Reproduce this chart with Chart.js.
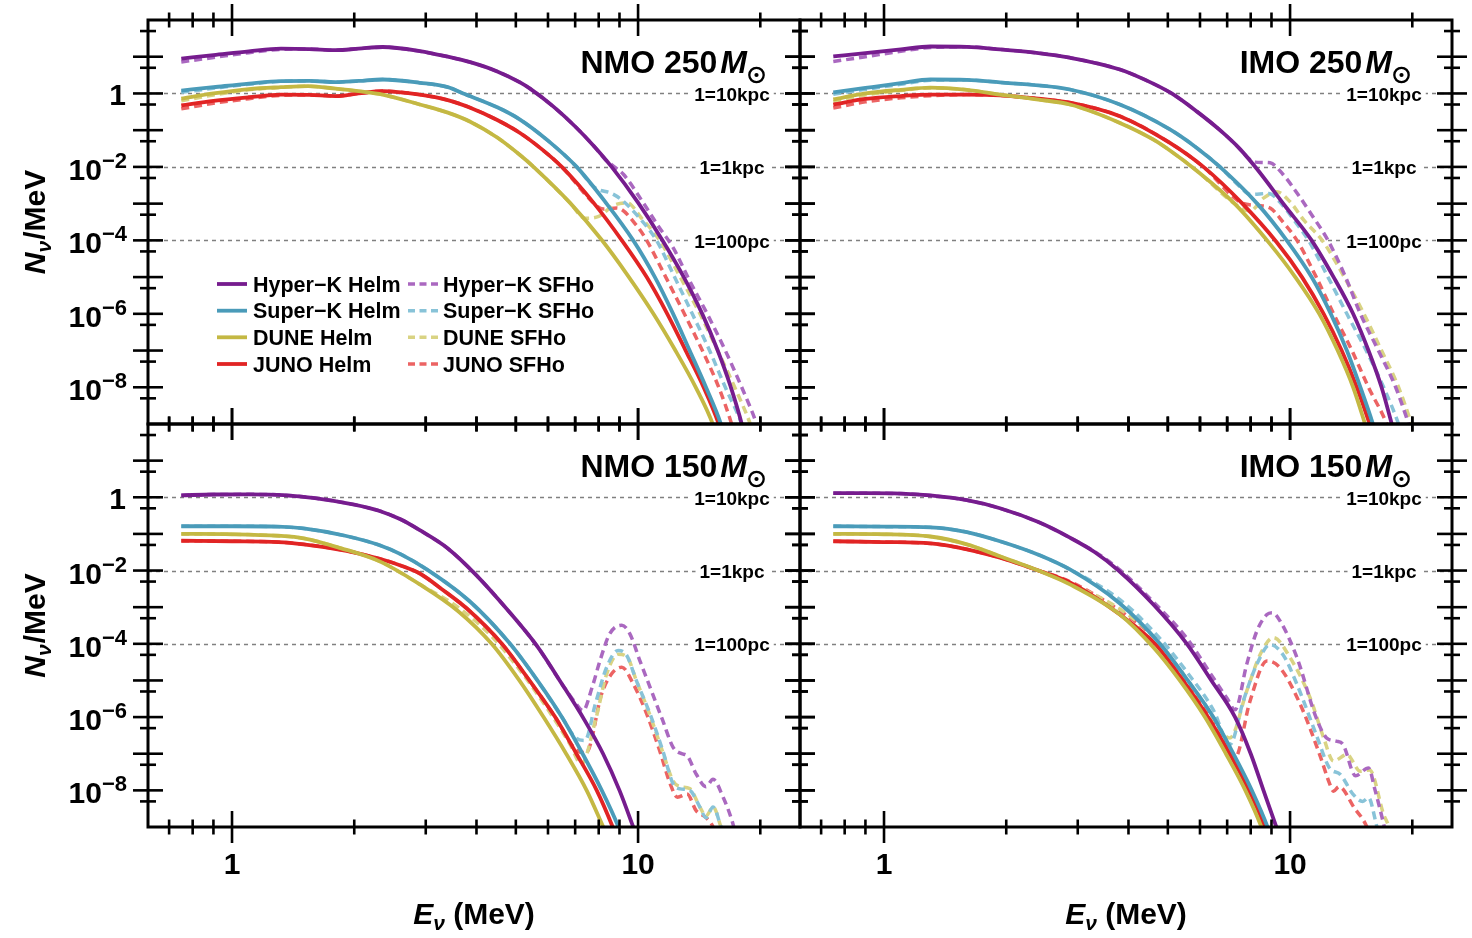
<!DOCTYPE html>
<html>
<head>
<meta charset="utf-8">
<script src="https://cdn.jsdelivr.net/npm/chart.js@4.4.1/dist/chart.umd.min.js"></script>
<style>
html,body{margin:0;padding:0;background:#fff;}
#wrap{position:relative;width:1472px;height:938px;overflow:hidden;background:#fff;}
#wrap canvas{position:absolute;left:0;top:0;}
</style>
</head>
<body>
<div id="wrap">
<canvas id="c0" width="1472" height="938"></canvas>
<canvas id="c1" width="1472" height="938"></canvas>
<canvas id="c2" width="1472" height="938"></canvas>
<canvas id="c3" width="1472" height="938"></canvas>
</div>
<script>
// ---------------- DATA (E_nu in MeV, N_nu per MeV) ----------------
const DETECTORS = ['Hyper−K', 'Super−K', 'DUNE', 'JUNO'];
const MODELS = ['Helm', 'SFHo'];
const PANEL_TITLES = ['NMO 250', 'IMO 250', 'NMO 150', 'IMO 150'];
const GUIDE_VALUES = [1, 1e-2, 1e-4];
const GUIDE_LABELS = ['1=10kpc', '1=1kpc', '1=100pc'];
const X_MAJOR_TICKS = [1, 10];
const X_MINOR_TICKS = [0.7, 0.8, 0.9, 2, 3, 4, 5, 6, 7, 8, 9, 20];
const X_TICK_LABELS = ['1', '10'];
const Y_MAJOR_TICKS = [10, 1, 0.1, 1e-2, 1e-3, 1e-4, 1e-5, 1e-6, 1e-7, 1e-8];
const Y_MINOR_TICKS = [50, 5, 0.5, 0.05, 5e-3, 5e-4, 5e-5, 5e-6, 5e-7, 5e-8, 5e-9];
const Y_LABEL_VALUES = [1, 1e-2, 1e-4, 1e-6, 1e-8];
const Y_LABEL_EXPONENTS = [null, '−2', '−4', '−6', '−8'];

// NMO 250 Msun
const nmo250_HyperK_Helm = [[0.75,8.9],[0.9,11],[1.1,14],[1.32,16.6],[1.55,16.2],[1.8,15.1],[2.05,16.6],[2.35,18.4],[2.9,14.3],[3.4,10],[3.86,7.1],[4.5,3.98],[5.12,2.0],[5.42,1.35],[6.2,0.43],[7.0,0.126],[7.8,0.036],[8.61,0.01],[10.0,1.07e-3],[11.4,1.15e-4],[12.9,1.1e-5],[14.4,9.8e-7],[15.7,1.02e-7],[16.9,1.05e-8],[18.1,7.9e-10],[18.5,2.5e-10]];
const nmo250_SuperK_Helm = [[0.75,1.2],[0.9,1.48],[1.1,1.86],[1.32,2.17],[1.55,2.19],[1.8,2.04],[2.05,2.19],[2.35,2.4],[2.9,1.95],[3.4,1.48],[3.71,1.0],[4.5,0.42],[5.12,0.195],[6.0,0.052],[7.06,0.01],[8.3,1.12e-3],[9.73,1e-4],[11.0,1e-5],[12.2,1e-6],[13.4,1e-7],[14.7,1e-8],[16.0,1e-9],[16.5,3.2e-10]];
const nmo250_DUNE_Helm = [[0.75,0.72],[0.9,1.0],[1.1,1.32],[1.32,1.48],[1.54,1.58],[1.8,1.35],[2.05,1.15],[2.35,0.93],[2.9,0.5],[3.4,0.3],[3.86,0.17],[4.5,0.063],[5.12,0.021],[5.57,9.3e-3],[6.8,1.05e-3],[8.14,1.02e-4],[9.4,1.17e-5],[10.9,1.02e-6],[12.3,1.1e-7],[13.9,9.5e-9],[15.3,9.5e-10],[15.8,3e-10]];
const nmo250_JUNO_Helm = [[0.75,0.47],[0.9,0.63],[1.1,0.79],[1.32,0.93],[1.55,0.91],[1.8,0.85],[2.05,1.0],[2.35,1.16],[2.9,0.93],[3.4,0.66],[3.86,0.41],[4.5,0.19],[5.12,0.084],[5.8,0.03],[6.49,0.01],[7.8,1e-3],[9.12,1e-4],[10.5,1e-5],[11.8,1e-6],[13.1,1e-7],[14.5,1e-8],[15.8,1e-9],[16.3,3.2e-10]];
const nmo250_HyperK_SFHo = [[0.75,7.2],[0.9,9.5],[1.1,12.9],[1.32,15.8],[1.55,16.2],[1.8,15.1],[2.05,16.6],[2.35,18.2],[2.9,14.1],[3.4,10],[3.86,7.1],[4.5,3.98],[5.12,2.0],[5.42,1.35],[6.2,0.43],[7.0,0.126],[7.8,0.036],[8.3,0.016],[8.65,0.011],[9.2,6.3e-3],[10.3,1.05e-3],[11.2,2.5e-4],[12.2,6.3e-5],[13.4,7.9e-6],[14.8,1e-6],[16.4,1e-7],[18.0,1e-8],[19.6,1e-9],[20.3,3e-10]];
const nmo250_SuperK_SFHo = [[0.75,1.08],[0.9,1.38],[1.1,1.78],[1.32,2.14],[1.55,2.19],[1.8,2.04],[2.05,2.19],[2.35,2.4],[2.9,1.95],[3.4,1.48],[3.71,1.0],[4.5,0.42],[5.12,0.195],[6.0,0.052],[7.06,0.01],[7.8,2.8e-3],[8.6,1.9e-3],[9.12,1.26e-3],[10.0,4.5e-4],[11.1,1e-4],[12.3,1e-5],[13.6,1e-6],[15.0,1e-7],[16.4,1e-8],[18.0,1e-9],[18.6,3.2e-10]];
const nmo250_DUNE_SFHo = [[0.75,0.63],[0.9,0.91],[1.1,1.26],[1.32,1.45],[1.54,1.58],[1.8,1.35],[2.05,1.15],[2.35,0.93],[2.9,0.5],[3.4,0.3],[3.86,0.17],[4.5,0.063],[5.12,0.021],[5.57,9.3e-3],[6.8,1.05e-3],[7.4,4e-4],[8.0,4.5e-4],[8.7,8.9e-4],[9.4,1.05e-3],[10.2,4e-4],[11.3,1e-4],[12.7,1e-5],[14.2,1e-6],[15.7,1e-7],[17.3,1e-8],[18.9,1e-9],[19.5,3.5e-10]];
const nmo250_JUNO_SFHo = [[0.75,0.38],[0.9,0.54],[1.1,0.72],[1.32,0.89],[1.55,0.91],[1.8,0.85],[2.05,1.0],[2.35,1.16],[2.9,0.93],[3.4,0.66],[3.86,0.41],[4.5,0.19],[5.12,0.084],[5.8,0.03],[6.49,0.01],[7.8,1e-3],[8.2,7.1e-4],[8.86,7.6e-4],[9.93,2.5e-4],[10.5,1e-4],[11.7,1e-5],[13.0,1e-6],[14.4,1e-7],[15.8,1e-8],[17.0,1e-9],[17.5,3.2e-10]];

// IMO 250 Msun
const imo250_HyperK_Helm = [[0.75,10.2],[0.9,12.6],[1.1,15.8],[1.3,19],[1.6,18.6],[1.93,15.8],[2.4,12.6],[2.87,9.4],[3.81,4.5],[4.4,2.34],[5.11,1.0],[5.9,0.32],[6.72,0.1],[7.5,0.032],[8.28,8.9e-3],[9.7,8.9e-4],[11.3,1e-4],[12.8,1e-5],[14.3,1e-6],[15.6,1e-7],[16.8,1e-8],[17.8,1e-9],[18.3,3e-10]];
const imo250_SuperK_Helm = [[0.75,1.07],[0.9,1.41],[1.1,1.9],[1.3,2.4],[1.6,2.34],[1.93,2.0],[2.4,1.66],[2.87,1.28],[3.81,0.5],[5.06,0.105],[5.85,0.035],[6.72,0.01],[8.3,1e-3],[9.81,1e-4],[11.3,1e-5],[12.6,1e-6],[13.8,1e-7],[14.9,1e-8],[16.0,1e-9],[16.5,3.2e-10]];
const imo250_DUNE_Helm = [[0.75,0.69],[0.9,1.0],[1.1,1.26],[1.3,1.45],[1.6,1.26],[1.93,0.93],[2.4,0.68],[2.87,0.5],[3.81,0.158],[4.6,0.056],[5.06,0.028],[5.89,7.9e-3],[7.3,1e-3],[8.93,7.9e-5],[10.3,1e-5],[11.8,1e-6],[13.1,1e-7],[14.3,1e-8],[15.3,1e-9],[15.8,3.2e-10]];
const imo250_JUNO_Helm = [[0.75,0.5],[0.9,0.71],[1.1,0.85],[1.3,0.93],[1.6,0.93],[1.93,0.89],[2.4,0.72],[2.87,0.56],[3.81,0.24],[5.06,0.045],[6.12,0.01],[7.6,1.05e-3],[9.27,8.9e-5],[10.7,1e-5],[12.1,1e-6],[13.4,1e-7],[14.6,1e-8],[15.7,1e-9],[16.2,3.2e-10]];
const imo250_HyperK_SFHo = [[0.75,7.4],[0.9,10],[1.1,14.1],[1.3,17.8],[1.6,18.6],[1.93,15.8],[2.4,12.6],[2.87,9.4],[3.81,4.5],[4.4,2.34],[5.11,1.0],[5.9,0.32],[6.72,0.1],[7.5,0.032],[7.9,0.017],[8.2,0.0135],[8.93,0.0129],[9.6,6.3e-3],[10.4,1.95e-3],[11.3,5e-4],[12.4,1e-4],[13.7,1e-5],[14.9,1e-6],[16.5,1e-7],[18.2,1e-8],[19.6,1e-9],[20.3,3.2e-10]];
const imo250_SuperK_SFHo = [[0.75,0.95],[0.9,1.29],[1.1,1.78],[1.3,2.29],[1.6,2.34],[1.93,2.0],[2.4,1.66],[2.87,1.28],[3.81,0.5],[5.06,0.105],[5.85,0.035],[6.72,0.01],[7.5,3e-3],[8.0,1.78e-3],[8.85,1.9e-3],[9.6,8.9e-4],[10.3,3.2e-4],[11.1,1e-4],[12.4,1e-5],[13.8,1e-6],[15.4,1e-7],[17.0,1e-8],[18.5,1e-9],[19.1,3.2e-10]];
const imo250_DUNE_SFHo = [[0.75,0.6],[0.9,0.91],[1.1,1.2],[1.3,1.41],[1.6,1.26],[1.93,0.93],[2.4,0.68],[2.87,0.5],[3.81,0.158],[4.6,0.056],[5.06,0.028],[5.89,7.9e-3],[7.3,1e-3],[7.97,6.3e-4],[8.6,1.41e-3],[9.27,2.1e-3],[10.0,1.12e-3],[10.8,3.6e-4],[12.0,1e-4],[13.6,1e-5],[15.2,1e-6],[16.8,1e-7],[18.5,1e-8],[19.9,1e-9],[20.5,3.2e-10]];
const imo250_JUNO_SFHo = [[0.75,0.4],[0.9,0.59],[1.1,0.76],[1.3,0.87],[1.6,0.93],[1.93,0.89],[2.4,0.72],[2.87,0.56],[3.81,0.24],[5.06,0.045],[6.12,0.01],[7.6,1.05e-3],[8.3,8.9e-4],[8.93,7.6e-4],[9.6,3.2e-4],[10.4,1e-4],[11.6,1e-5],[12.8,1e-6],[14.2,1e-7],[15.6,1e-8],[17.3,1e-9],[17.9,3.2e-10]];

// NMO 150 Msun
const nmo150_HyperK_Helm = [[0.75,1.13],[0.9,1.19],[1.1,1.2],[1.34,1.15],[1.6,0.95],[2.0,0.63],[2.3,0.43],[2.6,0.25],[2.9,0.126],[3.4,0.04],[4.0,7.4e-3],[4.75,8.9e-4],[5.63,8.9e-5],[6.5,7.9e-6],[7.4,7.9e-7],[8.2,1e-7],[9.0,1e-8],[9.73,1e-9],[10.1,3.2e-10]];
const nmo150_SuperK_Helm = [[0.75,0.162],[1.0,0.162],[1.3,0.158],[1.5,0.141],[1.9,0.089],[2.31,0.049],[2.6,0.028],[3.05,0.01],[3.86,1.41e-3],[4.84,1e-4],[5.65,1e-5],[6.49,1e-6],[7.3,1e-7],[8.14,1e-8],[8.95,1e-9],[9.3,3.2e-10]];
const nmo150_DUNE_Helm = [[0.75,0.1],[1.0,0.098],[1.3,0.089],[1.5,0.076],[1.85,0.041],[2.31,0.0178],[2.9,4.2e-3],[3.6,7.9e-4],[4.36,1e-4],[5.1,1e-5],[5.85,1e-6],[6.65,1e-7],[7.47,1e-8],[8.21,1e-9],[8.6,3.2e-10]];
const nmo150_JUNO_Helm = [[0.75,0.065],[1.0,0.063],[1.3,0.06],[1.5,0.052],[1.9,0.035],[2.31,0.021],[2.6,0.0138],[2.9,8.3e-3],[3.3,3e-3],[3.8,8.9e-4],[4.62,1e-4],[5.4,1e-5],[6.25,1e-6],[7.05,1e-7],[7.91,1e-8],[8.66,1e-9],[9.0,3.2e-10]];
const nmo150_HyperK_SFHo = [[0.75,1.13],[0.9,1.19],[1.1,1.2],[1.34,1.15],[1.6,0.95],[2.0,0.63],[2.3,0.43],[2.6,0.25],[2.9,0.126],[3.4,0.04],[4.0,7.4e-3],[4.75,8.9e-4],[5.63,8.9e-5],[6.5,7.9e-6],[7.0,2.5e-6],[7.32,1.5e-6],[7.7,6.3e-6],[8.06,3.5e-5],[8.52,1.9e-4],[9.12,3.2e-4],[9.54,1.9e-4],[10.1,3.5e-5],[10.7,6.6e-6],[11.5,8.1e-7],[12.2,1.5e-7],[12.8,1e-7],[13.2,8.9e-8],[13.9,2.8e-8],[14.7,1.26e-8],[15.3,2e-8],[16.2,6.5e-9],[17.0,1.6e-9],[17.4,6.3e-10]];
const nmo150_SuperK_SFHo = [[0.75,0.162],[1.0,0.162],[1.3,0.158],[1.5,0.141],[1.9,0.089],[2.31,0.049],[2.6,0.028],[3.05,0.01],[3.86,1.41e-3],[4.84,1e-4],[5.65,1e-5],[6.49,1e-6],[7.0,2.8e-7],[7.4,2.3e-7],[7.85,2.3e-6],[8.37,2.3e-5],[8.93,6.6e-5],[9.38,4.8e-5],[9.9,1e-5],[10.7,1.23e-6],[11.5,1.23e-7],[12.2,1.5e-8],[12.7,1.1e-8],[13.4,1e-8],[14.2,3.5e-9],[14.7,1.8e-9],[15.3,3.5e-9],[16.0,1e-9],[16.4,4e-10]];
const nmo150_DUNE_SFHo = [[0.75,0.1],[1.0,0.098],[1.3,0.089],[1.5,0.076],[1.85,0.041],[2.31,0.0178],[2.9,4.2e-3],[3.6,1e-3],[4.36,1.6e-4],[5.1,2e-5],[6.0,1.6e-6],[6.8,1.8e-7],[7.25,5.2e-8],[7.85,7.9e-7],[8.37,1.5e-5],[8.93,5.2e-5],[9.38,4.5e-5],[9.9,1e-5],[10.7,1.12e-6],[11.5,1.12e-7],[12.2,1.8e-8],[12.7,1.26e-8],[13.4,1.12e-8],[14.2,3.5e-9],[14.7,2e-9],[15.3,3.5e-9],[16.0,1e-9],[16.4,4e-10]];
const nmo150_JUNO_SFHo = [[0.75,0.065],[1.0,0.063],[1.3,0.06],[1.5,0.052],[1.9,0.035],[2.31,0.021],[2.6,0.0138],[2.9,8.3e-3],[3.3,3e-3],[3.8,8.9e-4],[4.62,1e-4],[5.4,1e-5],[6.25,1e-6],[7.05,1.26e-7],[7.45,1.07e-7],[8.14,4.4e-6],[8.6,1.5e-5],[9.12,2.3e-5],[9.73,8.1e-6],[10.5,1.23e-6],[11.3,1.23e-7],[12.0,1.5e-8],[12.5,6.5e-9],[13.2,7.9e-9],[13.9,2.8e-9],[14.7,1.8e-9],[15.3,1e-9],[15.7,4e-10]];

// IMO 150 Msun
const imo150_HyperK_Helm = [[0.75,1.29],[0.9,1.29],[1.1,1.26],[1.3,1.12],[1.6,0.83],[1.93,0.5],[2.4,0.21],[2.87,0.079],[3.3,0.032],[3.78,0.01],[4.6,1.2e-3],[5.57,1e-4],[6.4,1e-5],[7.32,1e-6],[8.0,1e-7],[8.6,1e-8],[9.25,1e-9],[9.6,3.2e-10]];
const imo150_SuperK_Helm = [[0.75,0.162],[1.0,0.158],[1.3,0.151],[1.6,0.112],[1.93,0.063],[2.4,0.027],[2.87,0.0107],[3.81,1.26e-3],[4.78,1e-4],[5.6,1e-5],[6.47,1e-6],[7.25,1e-7],[8.05,1e-8],[8.8,1e-9],[9.1,3.2e-10]];
const imo150_DUNE_Helm = [[0.75,0.1],[1.0,0.098],[1.3,0.085],[1.6,0.052],[1.93,0.0245],[2.4,0.01],[2.87,4.2e-3],[3.81,6.3e-4],[4.61,7.9e-5],[5.35,1e-5],[6.17,1e-6],[6.95,1e-7],[7.76,1e-8],[8.5,1e-9],[8.8,3.2e-10]];
const imo150_JUNO_Helm = [[0.75,0.063],[1.0,0.06],[1.3,0.055],[1.6,0.038],[1.93,0.0224],[2.4,0.01],[2.87,4.7e-3],[3.81,6.3e-4],[4.65,1e-4],[5.45,1e-5],[6.28,1e-6],[7.1,1e-7],[7.92,1e-8],[8.65,1e-9],[8.9,3.2e-10]];
const imo150_HyperK_SFHo = [[0.75,1.29],[0.9,1.29],[1.1,1.26],[1.3,1.12],[1.6,0.83],[1.93,0.5],[2.4,0.21],[2.87,0.079],[3.3,0.033],[3.78,0.0112],[4.6,1.41e-3],[5.57,1.41e-4],[6.4,1.41e-5],[7.0,3.2e-6],[7.32,1.58e-6],[7.82,2.75e-5],[8.28,2.2e-4],[8.77,6.3e-4],[9.05,7.1e-4],[9.45,4.2e-4],[10.4,4.2e-5],[11.6,9.5e-7],[12.3,2.7e-7],[13.0,2.2e-7],[13.5,1.8e-7],[14.5,2.5e-8],[15.6,4.1e-8],[16.2,1e-8],[17.0,1.2e-9],[17.3,5e-10]];
const imo150_SuperK_SFHo = [[0.75,0.162],[1.0,0.158],[1.3,0.151],[1.6,0.112],[1.93,0.063],[2.4,0.027],[2.87,0.0107],[3.81,1.6e-3],[4.78,1.41e-4],[5.6,1.58e-5],[6.47,1.58e-6],[7.11,1.78e-7],[7.67,2.75e-6],[8.28,2.75e-5],[8.93,9.5e-5],[9.6,5.1e-5],[10.4,7.8e-6],[11.6,3.3e-7],[12.5,4.1e-8],[13.3,2.7e-8],[14.3,7.8e-9],[15.1,5e-9],[15.6,6.3e-9],[16.3,1.2e-9],[16.6,5e-10]];
const imo150_DUNE_SFHo = [[0.75,0.1],[1.0,0.098],[1.3,0.085],[1.6,0.052],[1.93,0.0245],[2.4,0.01],[2.87,4.4e-3],[3.81,8.9e-4],[4.61,1.58e-4],[5.35,2e-5],[6.17,2.2e-6],[7.11,2.7e-7],[7.82,5.1e-6],[8.44,5.1e-5],[9.1,1.48e-4],[10.0,4.2e-5],[11.2,3.4e-6],[12.1,2.7e-7],[12.8,6.3e-8],[13.8,9.5e-8],[14.9,3.3e-8],[15.7,3.6e-8],[17.0,2.2e-9],[17.5,1e-9],[17.8,4e-10]];
const imo150_JUNO_SFHo = [[0.75,0.063],[1.0,0.06],[1.3,0.055],[1.6,0.038],[1.93,0.0224],[2.4,0.01],[2.87,5e-3],[3.81,8e-4],[4.65,1.41e-4],[5.45,1.41e-5],[6.28,1.26e-6],[7.0,1.58e-7],[7.32,7.8e-8],[7.97,2.75e-6],[8.77,3.4e-5],[9.45,2.2e-5],[10.6,2.2e-6],[11.9,7.8e-8],[12.5,1.58e-8],[12.8,9.5e-9],[13.2,1.26e-8],[14.4,3.3e-9],[15.4,1.1e-9],[15.8,5e-10]];

// ---------------- STYLE / LAYOUT ----------------
const FONT = '"Liberation Sans", Arial, Helvetica, sans-serif';
const HELM_COLORS = ['#761C8E', '#4A9BB9', '#C4B843', '#E12424'];
const SFHO_COLORS = ['#AA68C0', '#88C3D8', '#D9D383', '#EC6363'];
const X_MIN = 0.621, X_MAX = 25.05, Y_MIN = 1e-9, Y_MAX = 100;
const W = 1472, H = 938;

const PANELS = [
  { canvas: 'c0', title: PANEL_TITLES[0], area: { l: 148, r: 800, t: 20, b: 424 }, titleRight: 765,
    helm: [nmo250_HyperK_Helm, nmo250_SuperK_Helm, nmo250_DUNE_Helm, nmo250_JUNO_Helm],
    sfho: [nmo250_HyperK_SFHo, nmo250_SuperK_SFHo, nmo250_DUNE_SFHo, nmo250_JUNO_SFHo],
    legend: true, yAxis: true, xAxis: false },
  { canvas: 'c1', title: PANEL_TITLES[1], area: { l: 800, r: 1452, t: 20, b: 424 }, titleRight: 1410,
    helm: [imo250_HyperK_Helm, imo250_SuperK_Helm, imo250_DUNE_Helm, imo250_JUNO_Helm],
    sfho: [imo250_HyperK_SFHo, imo250_SuperK_SFHo, imo250_DUNE_SFHo, imo250_JUNO_SFHo],
    legend: false, yAxis: false, xAxis: false },
  { canvas: 'c2', title: PANEL_TITLES[2], area: { l: 148, r: 800, t: 424, b: 827 }, titleRight: 765,
    helm: [nmo150_HyperK_Helm, nmo150_SuperK_Helm, nmo150_DUNE_Helm, nmo150_JUNO_Helm],
    sfho: [nmo150_HyperK_SFHo, nmo150_SuperK_SFHo, nmo150_DUNE_SFHo, nmo150_JUNO_SFHo],
    legend: false, yAxis: true, xAxis: true },
  { canvas: 'c3', title: PANEL_TITLES[3], area: { l: 800, r: 1452, t: 424, b: 827 }, titleRight: 1410,
    helm: [imo150_HyperK_Helm, imo150_SuperK_Helm, imo150_DUNE_Helm, imo150_JUNO_Helm],
    sfho: [imo150_HyperK_SFHo, imo150_SuperK_SFHo, imo150_DUNE_SFHo, imo150_JUNO_SFHo],
    legend: false, yAxis: false, xAxis: true }
];

const HELM_WIDTH = 3.8, SFHO_WIDTH = 3.5, SFHO_DASH = [8, 5];

function drawRuns(ctx, runs, x, y, align) {
  let total = 0;
  const ws = runs.map(r => { ctx.font = r.font; const w = ctx.measureText(r.text).width + (r.gap || 0); total += w; return w; });
  let cx = align === 'right' ? x - total : (align === 'center' ? x - total / 2 : x);
  ctx.textAlign = 'left';
  ctx.textBaseline = 'alphabetic';
  runs.forEach((r, i) => { ctx.font = r.font; ctx.fillText(r.text, cx + (r.gap || 0), y + (r.dy || 0)); cx += ws[i]; });
  return total;
}

function panelPlugin(p) {
  return {
    id: 'panel_' + p.canvas,
    beforeDatasetsDraw(chart) {
      const ctx = chart.ctx;
      const { left, right } = chart.chartArea;
      const ys = chart.scales.y;
      ctx.save();
      ctx.strokeStyle = '#808080';
      ctx.lineWidth = 1.5;
      ctx.setLineDash([4, 4]);
      GUIDE_VALUES.forEach(v => {
        const py = Math.round(ys.getPixelForValue(v)) + 0.5;
        ctx.beginPath(); ctx.moveTo(left, py); ctx.lineTo(right, py); ctx.stroke();
      });
      ctx.setLineDash([]);
      ctx.font = 'bold 19px ' + FONT;
      ctx.textAlign = 'center';
      ctx.textBaseline = 'alphabetic';
      GUIDE_VALUES.forEach((v, i) => {
        const py = ys.getPixelForValue(v);
        const cx = right - 68;
        const w = ctx.measureText(GUIDE_LABELS[i]).width;
        ctx.fillStyle = '#fff';
        ctx.fillRect(cx - w / 2 - 4, py - 10, w + 8, 21);
        ctx.fillStyle = '#000';
        ctx.fillText(GUIDE_LABELS[i], cx, py + 7.5);
      });
      ctx.restore();
    },
    afterDatasetsDraw(chart) {
      const ctx = chart.ctx;
      const { left, right, top, bottom } = chart.chartArea;
      const xs = chart.scales.x, ys = chart.scales.y;
      ctx.save();
      ctx.setLineDash([]);
      ctx.strokeStyle = '#000';
      ctx.fillStyle = '#000';
      ctx.lineWidth = 3;
      ctx.strokeRect(left, top, right - left, bottom - top);
      ctx.lineWidth = 2.6;
      const vtick = (px, len) => {
        [top, bottom].forEach(yy => { ctx.beginPath(); ctx.moveTo(px, yy - len); ctx.lineTo(px, yy + len); ctx.stroke(); });
      };
      const htick = (py, len) => {
        [left, right].forEach(xx => { ctx.beginPath(); ctx.moveTo(xx - len, py); ctx.lineTo(xx + len, py); ctx.stroke(); });
      };
      X_MAJOR_TICKS.forEach(v => vtick(xs.getPixelForValue(v), 16));
      X_MINOR_TICKS.forEach(v => vtick(xs.getPixelForValue(v), 7.5));
      Y_MAJOR_TICKS.forEach(v => { const py = ys.getPixelForValue(v); if (py > top + 2 && py < bottom - 2) htick(py, 15); });
      Y_MINOR_TICKS.forEach(v => { const py = ys.getPixelForValue(v); if (py > top + 2 && py < bottom - 2) htick(py, 8); });

      if (p.yAxis) {
        const xr = left - 21;
        Y_LABEL_VALUES.forEach((v, i) => {
          const py = ys.getPixelForValue(v);
          const exp = Y_LABEL_EXPONENTS[i];
          ctx.textAlign = 'right'; ctx.textBaseline = 'alphabetic';
          if (!exp) {
            ctx.font = 'bold 30px ' + FONT;
            ctx.fillText('1', xr - 1, py + 11.5);
          } else {
            ctx.font = 'bold 22px ' + FONT;
            const ew = ctx.measureText(exp).width;
            ctx.fillText(exp, xr, py + 1);
            ctx.font = 'bold 30px ' + FONT;
            ctx.fillText('10', xr - ew, py + 13);
          }
        });
        ctx.save();
        ctx.translate(45, (top + bottom) / 2);
        ctx.rotate(-Math.PI / 2);
        drawRuns(ctx, [
          { text: 'N', font: 'italic bold 30px ' + FONT },
          { text: 'ν', font: 'italic bold 21px ' + FONT, dy: 6 },
          { text: '/MeV', font: 'bold 30px ' + FONT, gap: 1 }
        ], 0, 0, 'center');
        ctx.restore();
      }
      if (p.xAxis) {
        ctx.font = 'bold 30px ' + FONT; ctx.textAlign = 'center'; ctx.textBaseline = 'alphabetic';
        X_MAJOR_TICKS.forEach((v, i) => ctx.fillText(X_TICK_LABELS[i], xs.getPixelForValue(v), bottom + 47));
        drawRuns(ctx, [
          { text: 'E', font: 'italic bold 30px ' + FONT },
          { text: 'ν', font: 'italic bold 21px ' + FONT, dy: 6 },
          { text: ' (MeV)', font: 'bold 30px ' + FONT }
        ], (left + right) / 2, bottom + 97, 'center');
      }
      const base = top + 53;
      const R = p.titleRight;
      const circW = 18;
      drawRuns(ctx, [
        { text: p.title, font: 'bold 32px ' + FONT },
        { text: 'M', font: 'italic bold 32px ' + FONT, gap: 3 }
      ], R - circW, base, 'right');
      ctx.lineWidth = 2.3;
      ctx.beginPath(); ctx.arc(R - 8.5, base + 2, 7.2, 0, Math.PI * 2); ctx.stroke();
      ctx.beginPath(); ctx.arc(R - 8.5, base + 2, 2.1, 0, Math.PI * 2); ctx.fill();

      if (p.legend) {
        const rows = [284, 310.7, 337.3, 364];
        const cols = [{ x0: 217, x1: 247, tx: 253 }, { x0: 408, x1: 440, tx: 443 }];
        ctx.font = 'bold 21.5px ' + FONT; ctx.textAlign = 'left'; ctx.textBaseline = 'alphabetic';
        MODELS.forEach((m, c) => {
          DETECTORS.forEach((d, r) => {
            const y = rows[r];
            const ds = chart.data.datasets[c * 4 + r];
            ctx.save();
            ctx.strokeStyle = ds.borderColor;
            ctx.lineWidth = ds.borderWidth;
            ctx.setLineDash(c === 0 ? [] : [7, 4.5]);
            ctx.beginPath(); ctx.moveTo(cols[c].x0, y); ctx.lineTo(cols[c].x1, y); ctx.stroke();
            ctx.restore();
            ctx.fillStyle = '#000';
            ctx.fillText(d + ' ' + m, cols[c].tx, y + 7.5);
          });
        });
      }
      ctx.restore();
    }
  };
}

function lockRange(lo, hi) {
  return (scale) => { scale.min = lo; scale.max = hi; };
}

PANELS.forEach(p => {
  const datasets = [];
  p.helm.forEach((s, i) => datasets.push({
    label: DETECTORS[i] + ' ' + MODELS[0],
    data: s.map(([x, y]) => ({ x, y })),
    borderColor: HELM_COLORS[i], borderWidth: HELM_WIDTH, fill: false, pointRadius: 0
  }));
  p.sfho.forEach((s, i) => datasets.push({
    label: DETECTORS[i] + ' ' + MODELS[1],
    data: s.map(([x, y]) => ({ x, y })),
    borderColor: SFHO_COLORS[i], borderWidth: SFHO_WIDTH, borderDash: SFHO_DASH, fill: false, pointRadius: 0
  }));
  const a = p.area;
  new Chart(document.getElementById(p.canvas).getContext('2d'), {
    type: 'line',
    data: { datasets },
    options: {
      responsive: false, animation: false, devicePixelRatio: 1, events: [],
      layout: { padding: { left: a.l, right: W - a.r, top: a.t, bottom: H - a.b } },
      scales: {
        x: { type: 'logarithmic', min: X_MIN, max: X_MAX, bounds: 'data', display: false, afterBuildTicks: lockRange(X_MIN, X_MAX) },
        y: { type: 'logarithmic', min: Y_MIN, max: Y_MAX, bounds: 'data', display: false, afterBuildTicks: lockRange(Y_MIN, Y_MAX) }
      },
      elements: { point: { radius: 0 }, line: { cubicInterpolationMode: 'monotone', borderCapStyle: 'butt', borderJoinStyle: 'round' } },
      plugins: { legend: { display: false }, tooltip: { enabled: false }, title: { display: false } }
    },
    plugins: [panelPlugin(p)]
  });
});
</script>
</body>
</html>
